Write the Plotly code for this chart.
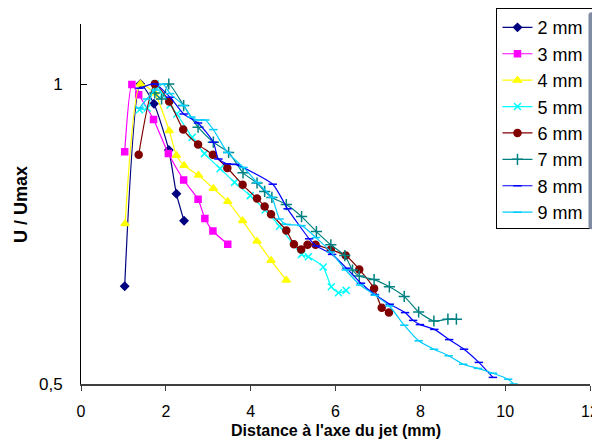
import plotly.graph_objects as go

labels = ["2 mm", "3 mm", "4 mm", "5 mm", "6 mm", "7 mm", "8 mm", "9 mm"]

x_2mm = [1.03, 1.40, 1.72, 2.07, 2.25, 2.43]
y_2mm = [0.663, 1.000, 0.967, 0.890, 0.817, 0.772]

x_3mm = [1.03, 1.20, 1.36, 1.71, 2.06, 2.42, 2.76, 2.92, 3.11, 3.46]
y_3mm = [0.887, 0.999, 0.982, 0.941, 0.884, 0.840, 0.808, 0.776, 0.755, 0.733]

x_4mm = [1.04, 1.40, 1.73, 2.08, 2.25, 2.43, 2.77, 3.12, 3.46, 3.81, 4.15, 4.48, 4.84]
y_4mm = [0.767, 1.000, 0.985, 0.922, 0.881, 0.864, 0.848, 0.826, 0.804, 0.772, 0.738, 0.706, 0.673]

x_5mm = [1.38, 1.56, 1.75, 1.93, 2.10, 2.26, 2.62, 2.91, 3.28, 3.62, 3.99, 4.34, 4.68,
         5.20, 5.36, 5.71, 5.90, 6.07, 6.25]
y_5mm = [0.957, 0.960, 1.000, 0.983, 0.965, 0.950, 0.911, 0.884, 0.859, 0.836, 0.814, 0.790, 0.763,
         0.716, 0.712, 0.695, 0.662, 0.652, 0.656]

x_6mm = [1.36, 1.74, 2.08, 2.41, 2.76, 3.11, 3.45, 3.81, 4.15, 4.33, 4.48, 4.84, 5.02,
         5.19, 5.34, 5.53, 5.89, 6.24, 6.56, 6.91, 7.09, 7.26]
y_6mm = [0.882, 1.000, 0.971, 0.924, 0.899, 0.882, 0.860, 0.832, 0.809, 0.796, 0.783, 0.756, 0.733,
         0.724, 0.732, 0.732, 0.724, 0.714, 0.691, 0.659, 0.627, 0.619]

x_7mm = [1.74, 1.90, 2.07, 2.42, 2.76, 3.12, 3.48, 3.82, 4.15, 4.33, 4.50, 4.84, 5.20,
         5.55, 5.89, 6.22, 6.40, 6.56, 6.91, 7.27, 7.62, 7.96, 8.32, 8.65, 8.85]
y_7mm = [0.985, 0.975, 1.000, 0.964, 0.928, 0.903, 0.886, 0.852, 0.835, 0.821, 0.811, 0.799, 0.779,
         0.754, 0.732, 0.714, 0.690, 0.680, 0.674, 0.662, 0.646, 0.620, 0.605, 0.608, 0.608]

x_8mm = [1.38, 1.75, 2.10, 2.42, 2.76, 3.12, 3.24, 3.44, 3.64, 4.52, 4.87, 5.38, 5.55,
         5.92, 6.26, 6.60, 6.93, 7.28, 7.64, 7.83, 7.99, 8.33, 8.68, 9.03, 9.38, 9.71]
y_8mm = [0.993, 1.000, 0.978, 0.950, 0.935, 0.903, 0.875, 0.867, 0.866, 0.833, 0.792, 0.742, 0.730,
         0.716, 0.693, 0.668, 0.649, 0.633, 0.619, 0.606, 0.599, 0.591, 0.574, 0.558, 0.536, 0.511]

x_9mm = [1.38, 1.55, 1.75, 1.93, 2.10, 2.42, 2.60, 2.76, 2.93, 3.12, 3.45, 3.83, 4.15, 4.50,
         4.68, 4.85, 5.20, 5.54, 5.89, 6.24, 6.58, 6.93, 7.27, 7.62, 7.96, 8.32, 8.67, 9.01,
         9.36, 9.71, 10.07, 10.20]
y_9mm = [0.960, 0.975, 0.990, 1.000, 0.984, 0.964, 0.945, 0.940, 0.940, 0.924, 0.886, 0.861, 0.836, 0.811,
         0.775, 0.766, 0.764, 0.744, 0.720, 0.690, 0.665, 0.648, 0.630, 0.598, 0.572, 0.558, 0.547, 0.533,
         0.526, 0.518, 0.508, 0.500]

xs = [x_2mm, x_3mm, x_4mm, x_5mm, x_6mm, x_7mm, x_8mm, x_9mm]
ys = [y_2mm, y_3mm, y_4mm, y_5mm, y_6mm, y_7mm, y_8mm, y_9mm]

colors = ["#000080", "#FF00FF", "#FFFF00", "#00FFFF", "#800000", "#008080", "#0000FF", "#00CCFF"]
symbols = ["diamond", "square", "triangle-up", "x-thin", "circle", "cross-thin", "line-ew", "line-ew"]
msizes = [6, 6, 7, 7, 7, 8, 6, 6]

fig = go.Figure()
for i in range(8):
    fig.add_trace(go.Scatter(
        x=xs[i], y=ys[i], name=labels[i], mode="lines+markers",
        line=dict(color=colors[i], width=1.2, shape="spline", smoothing=0.6),
        marker=dict(symbol=symbols[i], size=msizes[i], color=colors[i],
                    line=dict(color=colors[i], width=1.5)),
    ))

# page body has an 8px margin, so margins are shifted by 8px
fig.update_layout(
    width=600, height=441,
    margin=dict(l=72.5, r=17.5, t=16, b=65, autoexpand=False),
    paper_bgcolor="white", plot_bgcolor="white",
    font=dict(family="Liberation Sans, Arial, sans-serif", size=17, color="black"),
    xaxis=dict(range=[0, 12], tickvals=[0, 2, 4, 6, 8, 10, 12], ticks="outside", ticklen=5,
               tickcolor="#404040", showline=True, linecolor="#404040", linewidth=2,
               showgrid=False, zeroline=False, tickfont=dict(size=16), ticklabelstandoff=7,
               automargin=False),
    yaxis=dict(range=[0.5, 1.1], tickvals=[0.5, 1], ticktext=["0,5", "1"], ticks="inside",
               ticklen=6, tickcolor="black", showline=True, linecolor="black", linewidth=1,
               showgrid=False, zeroline=False, tickfont=dict(size=17), ticklabelstandoff=14,
               automargin=False),
    annotations=[
        dict(text="<b>Distance à l'axe du jet (mm)</b>", xref="paper", yref="paper",
             x=0.5, y=-0.13, xanchor="center", yanchor="middle", showarrow=False,
             font=dict(size=16)),
        dict(text="<b>U / Umax</b>", xref="paper", yref="paper", textangle=-90,
             x=-0.118, y=0.5, xanchor="center", yanchor="middle", showarrow=False,
             font=dict(size=18)),
    ],
    legend=dict(x=0.997, y=1.044, xanchor="right", yanchor="top", bordercolor="black",
                borderwidth=1, bgcolor="white", font=dict(size=18), itemwidth=30),
    showlegend=True,
)

fig.write_html("out.html")
